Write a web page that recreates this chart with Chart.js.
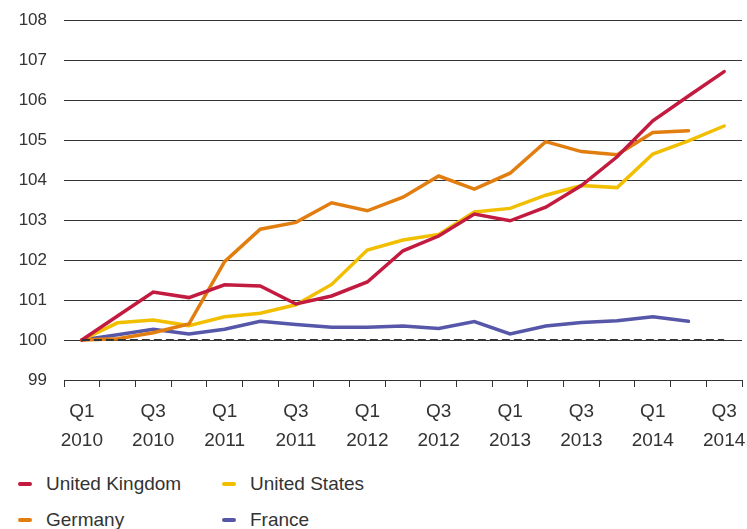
<!DOCTYPE html>
<html>
<head>
<meta charset="utf-8">
<script src="https://cdn.jsdelivr.net/npm/chart.js@4/dist/chart.umd.min.js"></script>
<style>
  body { margin: 0; background: #fff; }
  #wrap { position: relative; width: 747px; height: 466px; }
  #legend {
    display: grid;
    grid-template-columns: 204px 200px;
    grid-auto-rows: 36px;
    padding-left: 18px;
    font-family: "Liberation Sans", Arial, sans-serif;
    font-size: 19px;
    color: #333;
  }
  #legend .item { display: flex; align-items: center; }
  #legend .swatch { width: 14px; height: 4px; border-radius: 2px; margin-right: 14px; }
</style>
</head>
<body>
<div id="wrap"><canvas id="chart-line"></canvas></div>
<div id="legend"></div>
<script>
const labels = [
	"Q1 2010", "Q2 2010", "Q3 2010", "Q4 2010",
	"Q1 2011", "Q2 2011", "Q3 2011", "Q4 2011",
	"Q1 2012", "Q2 2012", "Q3 2012", "Q4 2012",
	"Q1 2013", "Q2 2013", "Q3 2013", "Q4 2013",
	"Q1 2014", "Q2 2014", "Q3 2014",
];

const unitedKingdom = [100, 100.6, 101.2, 101.06, 101.38, 101.35, 100.9, 101.1, 101.45, 102.23, 102.6, 103.15, 102.98, 103.32, 103.86, 104.58, 105.48, 106.1, 106.71];
const germany = [100, 100.03, 100.18, 100.4, 101.96, 102.77, 102.94, 103.43, 103.23, 103.57, 104.1, 103.77, 104.17, 104.96, 104.71, 104.63, 105.19, 105.23, null];
const unitedStates = [100, 100.43, 100.5, 100.36, 100.58, 100.67, 100.88, 101.39, 102.25, 102.5, 102.64, 103.2, 103.29, 103.62, 103.86, 103.81, 104.65, 104.98, 105.35];
const france = [100, 100.13, 100.27, 100.15, 100.27, 100.47, 100.39, 100.32, 100.32, 100.35, 100.29, 100.46, 100.15, 100.35, 100.44, 100.48, 100.58, 100.47, null];
const baseline = labels.map(() => 100);

const yTicks = { min: 99, max: 108, step: 1 };

const series = [
	{ label: "United Kingdom", data: unitedKingdom, color: "#c31b40" },
	{ label: "Germany", data: germany, color: "#e27d10" },
	{ label: "United States", data: unitedStates, color: "#f1bf00" },
	{ label: "France", data: france, color: "#5657a8" },
];

const font = "'Liberation Sans', Arial, sans-serif";

const datasets = series.map((s, i) => ({
	label: s.label,
	data: s.data,
	borderColor: s.color,
	backgroundColor: s.color,
	borderWidth: 3.5,
	pointRadius: 0,
	tension: 0,
	borderCapStyle: "round",
	order: i,
}));

// index = 100 reference line, drawn over the series
datasets.push({
	label: "base",
	data: baseline,
	borderColor: "#333",
	borderWidth: 2,
	borderDash: [8, 4],
	pointRadius: 0,
	order: -1,
});

const ctx = document.getElementById("chart-line");

new Chart(ctx, {
	type: "line",
	data: { labels: labels, datasets: datasets },
	options: {
		animation: false,
		responsive: true,
		maintainAspectRatio: false,
		layout: { padding: { top: 20, right: 5, left: 0, bottom: 0 } },
		plugins: {
			legend: { display: false },
			tooltip: { enabled: false },
		},
		scales: {
			x: {
				offset: true,
				border: { display: true, color: "#333", width: 1 },
				grid: {
					offset: true,
					drawOnChartArea: false,
					drawTicks: true,
					tickLength: 7,
					color: "#333",
				},
				// the last label may run past the plot edge
				afterFit: (scale) => { scale.paddingLeft = 0; scale.paddingRight = 0; },
				ticks: {
					autoSkip: false,
					maxRotation: 0,
					padding: 11,
					color: "#333",
					font: { family: font, size: 19, lineHeight: 1.5 },
					callback: function (value, index) {
						return index % 2 === 0 ? labels[index].split(" ") : "";
					},
				},
			},
			y: {
				min: yTicks.min,
				max: yTicks.max,
				border: { display: false },
				grid: { color: "#333", drawTicks: false },
				afterFit: (scale) => { scale.width = 64; scale.paddingTop = 0; scale.paddingBottom = 0; },
				ticks: {
					stepSize: yTicks.step,
					padding: 17,
					color: "#333",
					font: { family: font, size: 17 },
				},
			},
		},
	},
});

// two-column legend under the chart
const legend = document.getElementById("legend");
["United Kingdom", "United States", "Germany", "France"].forEach((name) => {
	const s = series.find((d) => d.label === name);
	const item = document.createElement("div");
	item.className = "item";
	item.innerHTML = '<span class="swatch" style="background:' + s.color + '"></span><span>' + name + "</span>";
	legend.appendChild(item);
});
</script>
</body>
</html>
